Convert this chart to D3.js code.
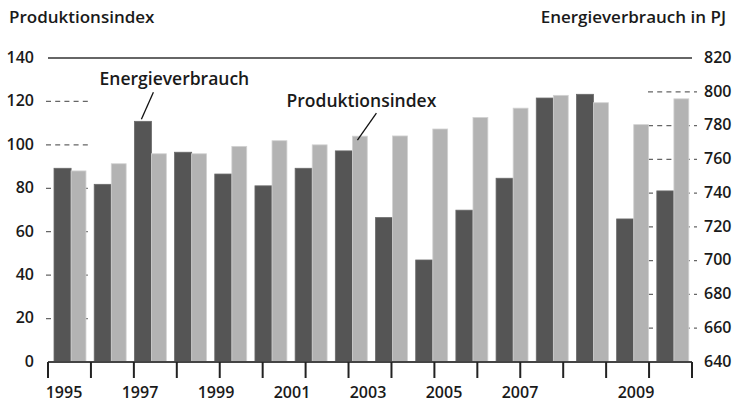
<!DOCTYPE html>
<html lang="de">
<head>
<meta charset="UTF-8">
<title>Produktionsindex und Energieverbrauch</title>
<script src="https://cdn.jsdelivr.net/npm/d3@7"></script>
<style>
    html, body { margin: 0; background: #fff; }
    text { font-family: "Open Sans", sans-serif; font-weight: 600; fill: #1a1a1a; }
</style>
</head>
<body>
<svg id="chart"></svg>
<script>
    // Daten
    const years = [1995, 1996, 1997, 1998, 1999, 2000, 2001, 2002, 2003, 2004, 2005, 2006, 2007, 2008, 2009, 2010];
    const energy = [754.7, 745.2, 782.5, 764.2, 751.3, 744.3, 754.7, 765.0, 725.5, 700.4, 729.9, 748.8, 796.3, 798.5, 724.7, 741.3]; // PJ
    const production = [88.0, 91.3, 95.9, 95.9, 99.3, 101.9, 100.0, 104.0, 104.1, 107.3, 112.6, 116.9, 122.8, 119.4, 109.3, 121.2];
    const leftTicks = [0, 20, 40, 60, 80, 100, 120, 140];
    const rightTicks = [640, 660, 680, 700, 720, 740, 760, 780, 800, 820];
    const yearLabels = [1995, 1997, 1999, 2001, 2003, 2005, 2007, 2009];

    const width = 737, height = 404;
    const svg = d3.select('#chart').attr('width', width).attr('height', height);

    const yL = d3.scaleLinear().domain([0, 140]).range([362, 58]);
    const yR = d3.scaleLinear().domain([640, 820]).range([362, 58]);
    const xBand = d3.scaleBand().domain(years).range([50, 693]);
    const xTick = d3.scalePoint().domain(years).range([48, 692]);
    const xLabel = d3.scaleLinear().domain([1995, 2007, 2009]).range([64, 520, 636]);

    const bw = xBand.bandwidth();
    const darkX = y => xBand(y) + bw * 0.1;
    const darkW = bw * 0.425;
    const lightX = y => darkX(y) + darkW;
    const lightW = bw * 0.37;

    // Gitterlinien (nur am Rand sichtbar)
    const grid = svg.append('g');
    grid.selectAll('line.gl')
        .data(leftTicks.filter(v => v > 0 && v < 140))
        .join('line')
        .attr('x1', 46).attr('x2', 92)
        .attr('y1', d => yL(d)).attr('y2', d => yL(d))
        .attr('stroke', '#666').attr('stroke-width', 1.3)
        .attr('stroke-dasharray', '5,4.2');
    grid.selectAll('line.gr')
        .data(rightTicks.filter(v => v > 640 && v < 820))
        .join('line')
        .attr('x1', 648).attr('x2', 697)
        .attr('y1', d => yR(d)).attr('y2', d => yR(d))
        .attr('stroke', '#666').attr('stroke-width', 1.3)
        .attr('stroke-dasharray', '5,4.2');
    svg.append('line')
        .attr('x1', 48).attr('x2', 692)
        .attr('y1', yL(140)).attr('y2', yL(140))
        .attr('stroke', '#333').attr('stroke-width', 1.5);

    // Balken
    svg.selectAll('rect.e')
        .data(years)
        .join('rect')
        .attr('x', d => darkX(d))
        .attr('width', darkW)
        .attr('y', (d, i) => yR(energy[i]))
        .attr('height', (d, i) => 362 - yR(energy[i]))
        .attr('fill', '#555')
        .attr('stroke', '#6a6a6a').attr('stroke-width', 0.8);
    svg.selectAll('rect.p')
        .data(years)
        .join('rect')
        .attr('x', d => lightX(d))
        .attr('width', lightW)
        .attr('y', (d, i) => yL(production[i]))
        .attr('height', (d, i) => 362 - yL(production[i]))
        .attr('fill', '#b3b3b3')
        .attr('stroke', '#d2d2d2').attr('stroke-width', 0.8);

    // x-Achse
    svg.append('line')
        .attr('x1', 48).attr('x2', 692)
        .attr('y1', 362).attr('y2', 362)
        .attr('stroke', '#444').attr('stroke-width', 2);
    svg.selectAll('line.xt')
        .data(years)
        .join('line')
        .attr('x1', d => xTick(d)).attr('x2', d => xTick(d))
        .attr('y1', 362).attr('y2', 378)
        .attr('stroke', '#222').attr('stroke-width', 2);
    svg.selectAll('text.xl')
        .data(yearLabels)
        .join('text')
        .attr('x', d => xLabel(d))
        .attr('y', 398)
        .attr('text-anchor', 'middle')
        .style('font-size', '16px')
        .text(d => d);

    // y-Achsen
    svg.selectAll('text.yl')
        .data(leftTicks)
        .join('text')
        .attr('x', 34)
        .attr('y', d => yL(d))
        .attr('dy', '0.3em')
        .attr('text-anchor', 'end')
        .style('font-size', '16px')
        .text(d => d);
    svg.selectAll('text.yr')
        .data(rightTicks)
        .join('text')
        .attr('x', 704)
        .attr('y', d => yR(d))
        .attr('dy', '0.3em')
        .style('font-size', '16px')
        .text(d => d);

    // Titel
    svg.append('text').attr('x', 9).attr('y', 23)
        .style('font-size', '17px').text('Produktionsindex');
    svg.append('text').attr('x', 726).attr('y', 23)
        .attr('text-anchor', 'end')
        .style('font-size', '17px').text('Energieverbrauch in PJ');

    // Beschriftungen mit Linien
    const iE = years.indexOf(1997);
    const eX = darkX(1997) + 7, eY = yR(energy[iE]) - 2;
    svg.append('line')
        .attr('x1', eX + 12).attr('y1', eY - 27)
        .attr('x2', eX).attr('y2', eY)
        .attr('stroke', '#111').attr('stroke-width', 1.3);
    svg.append('text').attr('x', eX + 33).attr('y', eY - 34)
        .attr('text-anchor', 'middle')
        .style('font-size', '17.5px').text('Energieverbrauch');

    const iP = years.indexOf(2002);
    const pX = lightX(2002) + 5, pY = yL(production[iP]) + 4;
    svg.append('line')
        .attr('x1', pX + 19).attr('y1', pY - 27)
        .attr('x2', pX).attr('y2', pY)
        .attr('stroke', '#111').attr('stroke-width', 1.3);
    svg.append('text').attr('x', pX + 4).attr('y', pY - 33)
        .attr('text-anchor', 'middle')
        .style('font-size', '17.5px').text('Produktionsindex');
</script>
</body>
</html>
